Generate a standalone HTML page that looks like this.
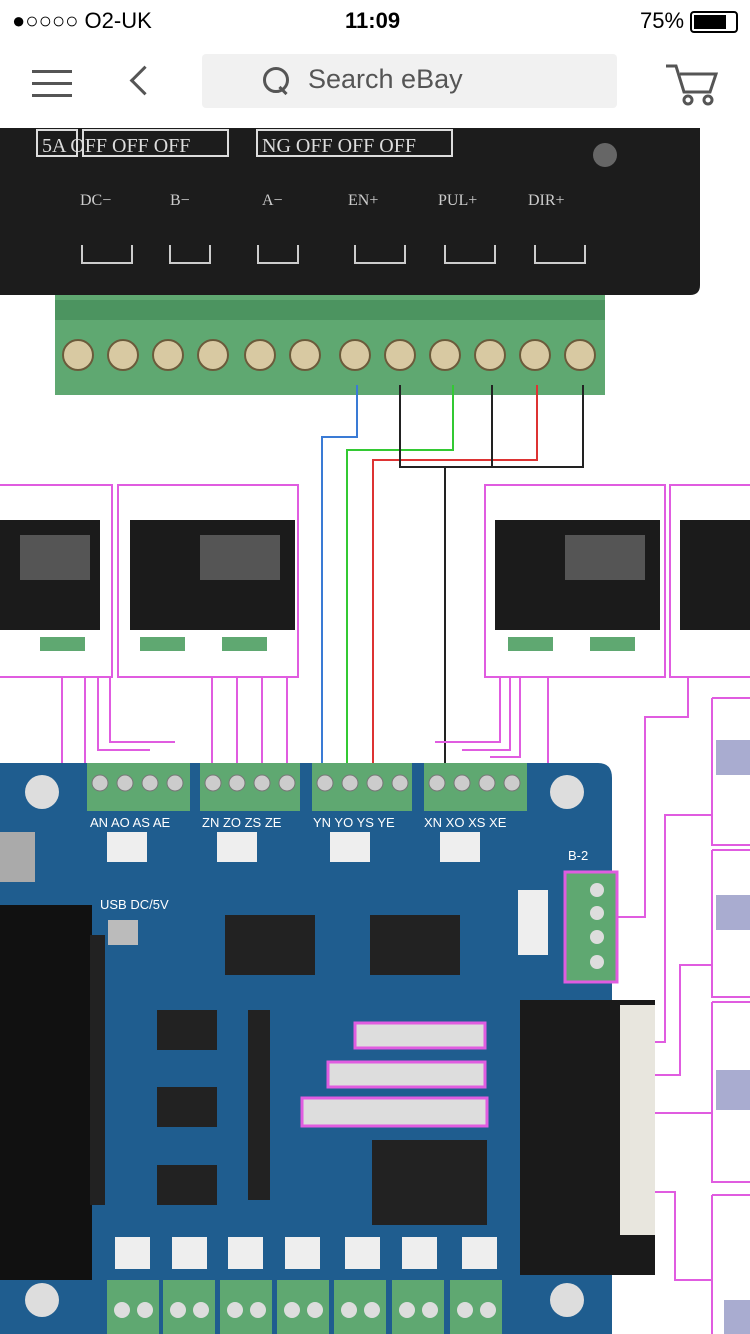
<!DOCTYPE html>
<html><head><meta charset="utf-8"><style>
body{margin:0;width:750px;height:1334px;overflow:hidden;background:#fff;font-family:"Liberation Sans",sans-serif;position:relative}
.a{position:absolute}
</style></head><body>
<div class="a" style="left:12px;top:8px;font-size:22px;color:#000">●○○○○ O2-UK</div>
<div class="a" style="left:345px;top:8px;font-size:22px;font-weight:bold">11:09</div>
<div class="a" style="left:640px;top:8px;font-size:22px">75%</div>
<div class="a" style="left:690px;top:11px;width:44px;height:18px;border:2px solid #000;border-radius:4px"><div style="width:32px;height:14px;margin:2px;background:#000"></div></div>
<div class="a" style="left:32px;top:70px;width:40px;height:3px;background:#555"></div>
<div class="a" style="left:32px;top:82px;width:40px;height:3px;background:#555"></div>
<div class="a" style="left:32px;top:94px;width:40px;height:3px;background:#555"></div>
<div class="a" style="left:134px;top:70px;width:18px;height:18px;border-left:3px solid #555;border-bottom:3px solid #555;transform:rotate(45deg)"></div>
<div class="a" style="left:202px;top:54px;width:415px;height:54px;background:#f1f1f1;border-radius:4px"></div>
<div class="a" style="left:263px;top:67px;width:20px;height:20px;border:3px solid #555;border-radius:50%"></div>
<div class="a" style="left:278px;top:89px;width:10px;height:3px;background:#555;transform:rotate(45deg)"></div>
<div class="a" style="left:308px;top:64px;font-size:27px;color:#555">Search eBay</div>
<svg class="a" style="left:664px;top:60px" width="56" height="48"><path d="M2 6h10l8 26h26l6-18H16" fill="none" stroke="#555" stroke-width="3"/><circle cx="24" cy="40" r="4" fill="none" stroke="#555" stroke-width="3"/><circle cx="44" cy="40" r="4" fill="none" stroke="#555" stroke-width="3"/></svg>

<svg class="a" style="left:0;top:128px" width="750" height="1206" viewBox="0 128 750 1206">
<path d="M0 128H700V285Q700 295 690 295H0Z" fill="#1c1c1c"/>
<g fill="none" stroke="#ddd" stroke-width="2"><rect x="37" y="130" width="40" height="26"/><rect x="83" y="130" width="145" height="26"/><rect x="257" y="130" width="195" height="26"/></g>
<g fill="#ddd" font-family="Liberation Serif" font-size="20"><text x="42" y="152">5A OFF OFF OFF</text><text x="262" y="152">NG OFF OFF OFF</text></g>
<circle cx="605" cy="155" r="12" fill="#666"/>
<g fill="none" stroke="#ccc" stroke-width="2">
<path d="M82 245v18h50v-18M170 245v18h40v-18M258 245v18h40v-18M355 245v18h50v-18M445 245v18h50v-18M535 245v18h50v-18"/></g>
<g fill="#ccc" font-size="16" font-family="Liberation Serif"><text x="80" y="205">DC−</text><text x="170" y="205">B−</text><text x="262" y="205">A−</text><text x="348" y="205">EN+</text><text x="438" y="205">PUL+</text><text x="528" y="205">DIR+</text></g>
<rect x="55" y="295" width="550" height="100" fill="#5fa871"/>
<rect x="55" y="300" width="550" height="20" fill="#4c9460"/>
<g fill="#d8c9a2" stroke="#6b5b3b" stroke-width="2">
<circle cx="78" cy="355" r="15"/><circle cx="123" cy="355" r="15"/><circle cx="168" cy="355" r="15"/><circle cx="213" cy="355" r="15"/><circle cx="260" cy="355" r="15"/><circle cx="305" cy="355" r="15"/><circle cx="355" cy="355" r="15"/><circle cx="400" cy="355" r="15"/><circle cx="445" cy="355" r="15"/><circle cx="490" cy="355" r="15"/><circle cx="535" cy="355" r="15"/><circle cx="580" cy="355" r="15"/></g>
<g fill="none" stroke-width="2"><path d="M357 385v52h-35v330" stroke="#3a7bd5"/><path d="M453 385v65h-106v317" stroke="#33c933"/><path d="M537 385v75h-164v307" stroke="#d33"/><path d="M400 385v82h183v-82M492 385v82M445 467v300h-47" stroke="#222"/></g>
<g fill="none" stroke="#e05ce0" stroke-width="2">
<rect x="-2" y="485" width="114" height="192"/><rect x="118" y="485" width="180" height="192"/><rect x="485" y="485" width="180" height="192"/><rect x="670" y="485" width="90" height="192"/>
<path d="M62 677v110M85 677v88h40M98 677v73h52M110 677v65h65M212 677v95M237 677v95M262 677v95M287 677v95M500 677v65h-65M510 677v73h-48M520 677v80h-30M548 677v110h-30"/>
<path d="M688 677v40h-43v200h-28"/>
<path d="M712 698H752M712 698v147h40M712 850h40M712 850v147h40M712 1002h40M712 1002v180h40M712 1195h40M712 1195v145"/>
<path d="M712 815h-47v227H487"/>
<path d="M712 965h-32v110H487"/>
<path d="M712 1113H489"/>
<path d="M640 1192h35v88h37"/>
<path d="M0 1310h90"/>
</g>
<g><rect x="0" y="520" width="100" height="110" fill="#1b1b1b"/><rect x="130" y="520" width="165" height="110" fill="#1b1b1b"/><rect x="495" y="520" width="165" height="110" fill="#1b1b1b"/><rect x="680" y="520" width="70" height="110" fill="#1b1b1b"/>
<g fill="#555"><rect x="200" y="535" width="80" height="45"/><rect x="565" y="535" width="80" height="45"/><rect x="20" y="535" width="70" height="45"/></g>
<g fill="#5fa871"><rect x="140" y="637" width="45" height="14"/><rect x="222" y="637" width="45" height="14"/><rect x="508" y="637" width="45" height="14"/><rect x="590" y="637" width="45" height="14"/><rect x="40" y="637" width="45" height="14"/></g></g>
<g fill="#a9acd0"><rect x="716" y="740" width="34" height="35"/><rect x="716" y="895" width="34" height="35"/><rect x="716" y="1070" width="34" height="40"/><rect x="724" y="1300" width="26" height="34"/></g>
<path d="M0 763H598Q612 763 612 778V1334H0Z" fill="#1f5d8f"/>
<g fill="#5fa871"><rect x="87" y="763" width="103" height="48"/><rect x="200" y="763" width="100" height="48"/><rect x="312" y="763" width="100" height="48"/><rect x="424" y="763" width="103" height="48"/></g>
<g fill="#ccc" stroke="#777"><circle cx="100" cy="783" r="8"/><circle cx="125" cy="783" r="8"/><circle cx="150" cy="783" r="8"/><circle cx="175" cy="783" r="8"/><circle cx="213" cy="783" r="8"/><circle cx="237" cy="783" r="8"/><circle cx="262" cy="783" r="8"/><circle cx="287" cy="783" r="8"/><circle cx="325" cy="783" r="8"/><circle cx="350" cy="783" r="8"/><circle cx="375" cy="783" r="8"/><circle cx="400" cy="783" r="8"/><circle cx="437" cy="783" r="8"/><circle cx="462" cy="783" r="8"/><circle cx="487" cy="783" r="8"/><circle cx="512" cy="783" r="8"/></g>
<g fill="#ddd"><circle cx="42" cy="792" r="17"/><circle cx="567" cy="792" r="17"/><circle cx="42" cy="1300" r="17"/><circle cx="567" cy="1300" r="17"/></g>
<g fill="#fff" font-size="13"><text x="90" y="827">AN AO AS AE</text><text x="202" y="827">ZN ZO ZS ZE</text><text x="313" y="827">YN YO YS YE</text><text x="424" y="827">XN XO XS XE</text><text x="568" y="860">B-2</text><text x="100" y="909">USB DC/5V</text></g>
<g fill="#eee"><rect x="107" y="832" width="40" height="30"/><rect x="217" y="832" width="40" height="30"/><rect x="330" y="832" width="40" height="30"/><rect x="440" y="832" width="40" height="30"/><rect x="518" y="890" width="30" height="65"/><rect x="0" y="832" width="35" height="50" fill="#aaa"/></g>
<rect x="0" y="905" width="92" height="375" fill="#111"/>
<rect x="520" y="1000" width="135" height="275" fill="#1a1a1a"/>
<rect x="620" y="1005" width="35" height="230" fill="#e8e6de"/>
<rect x="565" y="872" width="52" height="110" fill="#5fa871" stroke="#e05ce0" stroke-width="3"/>
<g fill="#ddd"><circle cx="597" cy="890" r="7"/><circle cx="597" cy="913" r="7"/><circle cx="597" cy="937" r="7"/><circle cx="597" cy="962" r="7"/></g>
<g fill="#222"><rect x="225" y="915" width="90" height="60"/><rect x="370" y="915" width="90" height="60"/><rect x="157" y="1010" width="60" height="40"/><rect x="157" y="1087" width="60" height="40"/><rect x="157" y="1165" width="60" height="40"/><rect x="372" y="1140" width="115" height="85"/><rect x="90" y="935" width="15" height="270"/><rect x="248" y="1010" width="22" height="190"/><rect x="108" y="920" width="30" height="25" fill="#bbb"/></g>
<g fill="#ddd" stroke="#e05ce0" stroke-width="3"><rect x="355" y="1023" width="130" height="25"/><rect x="328" y="1062" width="157" height="25"/><rect x="302" y="1098" width="185" height="28"/></g>
<g fill="#eee"><rect x="115" y="1237" width="35" height="32"/><rect x="172" y="1237" width="35" height="32"/><rect x="228" y="1237" width="35" height="32"/><rect x="285" y="1237" width="35" height="32"/><rect x="345" y="1237" width="35" height="32"/><rect x="402" y="1237" width="35" height="32"/><rect x="462" y="1237" width="35" height="32"/></g>
<g fill="#5fa871"><rect x="107" y="1280" width="52" height="54"/><rect x="163" y="1280" width="52" height="54"/><rect x="220" y="1280" width="52" height="54"/><rect x="277" y="1280" width="52" height="54"/><rect x="334" y="1280" width="52" height="54"/><rect x="392" y="1280" width="52" height="54"/><rect x="450" y="1280" width="52" height="54"/></g>
<g fill="#ddd"><circle cx="122" cy="1310" r="8"/><circle cx="145" cy="1310" r="8"/><circle cx="178" cy="1310" r="8"/><circle cx="201" cy="1310" r="8"/><circle cx="235" cy="1310" r="8"/><circle cx="258" cy="1310" r="8"/><circle cx="292" cy="1310" r="8"/><circle cx="315" cy="1310" r="8"/><circle cx="349" cy="1310" r="8"/><circle cx="372" cy="1310" r="8"/><circle cx="407" cy="1310" r="8"/><circle cx="430" cy="1310" r="8"/><circle cx="465" cy="1310" r="8"/><circle cx="488" cy="1310" r="8"/></g>
</svg>
</body></html>
